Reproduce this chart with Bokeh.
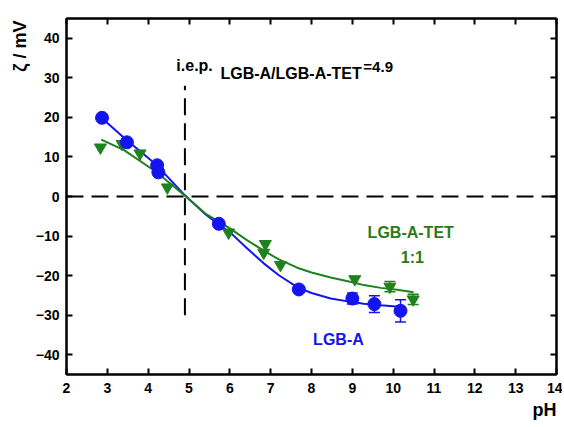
from bokeh.plotting import figure
from bokeh.models import Range1d, LinearAxis, Label, Whisker, TeeHead, ColumnDataSource, FixedTicker, Title
from bokeh.embed import file_html
from bokeh.resources import INLINE

# ---- data ----
blue_ph = [2.87, 3.48, 4.22, 4.25, 5.73, 7.69, 9.00, 9.54, 10.18]
blue_zeta = [19.9, 13.7, 7.9, 6.1, -6.9, -23.5, -25.8, -27.2, -28.9]
blue_err = [0, 0, 0, 0, 0, 0, 1.4, 2.1, 2.8]

green_ph = [2.83, 3.36, 3.80, 4.47, 5.97, 6.83, 6.87, 7.24, 9.06, 9.92, 10.49]
green_zeta = [12.4, 13.3, 10.9, 2.3, -9.1, -14.2, -12.0, -17.3, -20.9, -22.8, -26.0]
green_err = [0, 0, 0, 0, 0, 0, 0, 0, 0, 1.3, 1.3]

blue_fit_ph = [2.85, 3.4, 4.2, 4.9, 5.4, 5.77, 6.02, 6.4, 6.83, 7.2, 7.65, 8.0, 8.47, 9.0, 9.28, 9.7, 10.15]
blue_fit_zeta = [20.0, 14.9, 8.0, 0.3, -4.5, -7.4, -9.2, -12.9, -16.9, -19.9, -22.9, -24.4, -25.8, -26.7, -27.1, -27.5, -27.9]

green_fit_ph = [2.85, 3.4, 4.2, 4.9, 5.4, 5.77, 6.02, 6.4, 6.83, 7.2, 7.65, 8.0, 8.47, 9.0, 9.28, 9.7, 10.1, 10.5]
green_fit_zeta = [14.4, 11.8, 6.2, 0.2, -4.3, -6.6, -8.2, -10.9, -13.7, -15.9, -18.0, -19.2, -20.5, -21.7, -22.4, -23.1, -23.6, -24.2]

iep = 4.9
x_ticks = list(range(2, 15))
y_ticks = [-40, -30, -20, -10, 0, 10, 20, 30, 40]

BLUE = "#1414F0"
GREEN = "#1E821E"
GREEN_TXT = "#2A7A1A"
FONT = "Liberation Sans"

p = figure(width=562, height=424, output_backend="svg", toolbar_location=None,
           x_range=Range1d(2, 14), y_range=Range1d(-45, 45),
           min_border_left=66, min_border_right=6, min_border_top=18, min_border_bottom=50,
           x_axis_location=None, y_axis_location=None)
p.grid.visible = False
p.outline_line_color = "black"
p.outline_line_width = 2
p.background_fill_color = "white"
p.border_fill_color = "white"

def style_axis(ax, labels=True):
    ax.axis_line_width = 2
    ax.axis_line_color = "black"
    ax.major_tick_in = 6
    ax.major_tick_out = 0
    ax.major_tick_line_width = 2
    ax.minor_tick_line_color = None
    if labels:
        ax.major_label_text_font = FONT
        ax.major_label_text_font_style = "bold"
        ax.major_label_text_font_size = "14px"
        ax.major_label_text_color = "black"
    else:
        ax.major_label_text_font_size = "0px"
        ax.major_label_standoff = 0

bx = LinearAxis(ticker=FixedTicker(ticks=x_ticks))
style_axis(bx)
bx.major_label_standoff = 8
p.add_layout(bx, "below")
ly = LinearAxis(ticker=FixedTicker(ticks=y_ticks))
style_axis(ly)
ly.major_label_standoff = 7
p.add_layout(ly, "left")
tx = LinearAxis(ticker=FixedTicker(ticks=x_ticks))
style_axis(tx, labels=False)
p.add_layout(tx, "above")
ry = LinearAxis(ticker=FixedTicker(ticks=y_ticks))
style_axis(ry, labels=False)
p.add_layout(ry, "right")

# axis titles
p.add_layout(Title(text="pH", align="right", text_font=FONT, text_font_size="18px",
                   text_font_style="bold", text_color="black", standoff=4), "below")
p.add_layout(Title(text="ζ / mV", align="right", text_font=FONT, text_font_size="18px",
                   text_font_style="bold", text_color="black", standoff=6, offset=2), "left")

# dashed reference lines
p.line([2, 14], [0, 0], line_color="black", line_width=2, line_dash="17 8")
p.line([iep, iep], [-30, 28], line_color="black", line_width=2, line_dash="17 8")

# fits
p.line(blue_fit_ph, blue_fit_zeta, line_color=BLUE, line_width=2)
p.line(green_fit_ph, green_fit_zeta, line_color=GREEN, line_width=2)

# error bars
def err_source(xs, ys, es):
    rows = [(x, y - e, y + e) for x, y, e in zip(xs, ys, es) if e > 0]
    return ColumnDataSource(dict(x=[r[0] for r in rows], lo=[r[1] for r in rows], hi=[r[2] for r in rows]))

for src, col in ((err_source(blue_ph, blue_zeta, blue_err), BLUE),
                 (err_source(green_ph, green_zeta, green_err), GREEN)):
    w = Whisker(source=src, base="x", lower="lo", upper="hi", line_color=col, line_width=1.5,
                upper_head=TeeHead(size=11, line_color=col, line_width=1.5),
                lower_head=TeeHead(size=11, line_color=col, line_width=1.5))
    p.add_layout(w)

# markers
p.scatter(green_ph, green_zeta, marker="inverted_triangle", size=12, fill_color=GREEN, line_color=GREEN)
p.scatter(blue_ph, blue_zeta, marker="circle", size=13, fill_color=BLUE, line_color=BLUE)

# texts
def lab(x, y, t, size="16px", color="black", align="left", style="bold"):
    p.add_layout(Label(x=x, y=y, text=t, text_font=FONT, text_font_size=size, text_font_style=style,
                       text_color=color, text_align=align, text_baseline="middle"))

lab(4.69, 33.1, "i.e.p.")
lab(5.77, 31.1, "LGB-A/LGB-A-TET")
lab(9.27, 32.8, "=4.9", size="15px")
lab(10.43, -9.2, "LGB-A-TET", color=GREEN_TXT, align="center")
lab(10.47, -15.3, "1:1", color=GREEN_TXT, align="center")
lab(8.66, -36.2, "LGB-A", color=BLUE, align="center")

open("out.html", "w").write(file_html(p, INLINE))
